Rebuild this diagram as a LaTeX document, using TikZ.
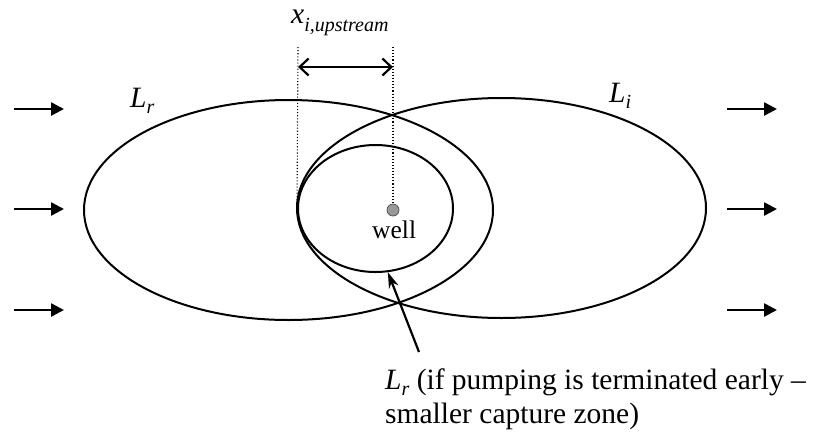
\documentclass[tikz,border=0pt]{standalone}
\usepackage{fontspec}
\setmainfont{Liberation Serif}
\usetikzlibrary{arrows.meta,shapes.geometric}
\newcommand\lowsub[2][0.22em]{\raisebox{-#1}{\fontsize{20}{20}\selectfont\itshape #2}}
\begin{document}
\begin{tikzpicture}[x=1pt,y=-1pt,
  zone/.style={draw, ellipse, line width=2pt, inner sep=0pt},
  flow/.style={line width=2.6pt, -{Triangle[length=13pt,width=13pt]}},
  guide/.style={line width=1.1pt, dotted},
  span/.style={line width=2.2pt, {Straight Barb[length=9pt,width=17pt]}-{Straight Barb[length=9pt,width=17pt]}},
  pointer/.style={line width=2.2pt, -{Stealth[length=16pt,width=10pt]}},
  lbl/.style={inner sep=0pt, anchor=base west, font=\fontsize{29.5}{34}\selectfont}
]
\useasboundingbox (0,0) rectangle (822,432);
\fill[white] (0,0) rectangle (822,432);

% capture zones
\node[zone, minimum width=409pt, minimum height=220pt] (Lr) at (288.5,210) {};
\node[zone, minimum width=409pt, minimum height=220pt] (Li) at (501.5,208) {};
\node[zone, minimum width=155pt, minimum height=127pt] (Ls) at (375.5,208.5) {};

% well
\node[circle, fill=gray!80, draw=black!70, line width=0.7pt, minimum size=12pt, inner sep=0pt] (well) at (393,210) {};
\node[lbl, font=\fontsize{25.5}{28}\selectfont] (welltxt) at (372,238) {well};

% dotted guides and upstream distance
\coordinate (g1) at (298,47);
\coordinate (g2) at (393,47);
\draw[guide] (g1) -- (Ls.west);
\draw[guide] (g2) -- (well.north);
\coordinate (a1) at (298,67);
\coordinate (a2) at (393,67);
\draw[span] (a1) -- (a2);
\node[lbl] (xlab) at (291,23) {\itshape x\lowsub[0.3em]{i,upstream}};

% zone labels
\node[lbl] (Lrlab) at (130,107) {\itshape L\lowsub{r}};
\node[lbl] (Lilab) at (609,102) {\itshape L\lowsub{i}};

% flow arrows
\foreach \y/\n in {109/1,209/2,310/3}{
  \coordinate (ls\n) at (14,\y);
  \coordinate (le\n) at (64,\y);
  \coordinate (rs\n) at (727,\y);
  \coordinate (re\n) at (777,\y);
  \draw[flow] (ls\n) -- (le\n);
  \draw[flow] (rs\n) -- (re\n);
}

% pointer and caption
\coordinate (ptail) at (419,352);
\draw[pointer] (ptail) -- (Ls.-79);
\node[lbl] (cap1) at (385,389) {\itshape L\lowsub{r}\upshape\ (if pumping is terminated early –};
\node[lbl] (cap2) at (385,423) {smaller capture zone)};
\end{tikzpicture}
\end{document}
